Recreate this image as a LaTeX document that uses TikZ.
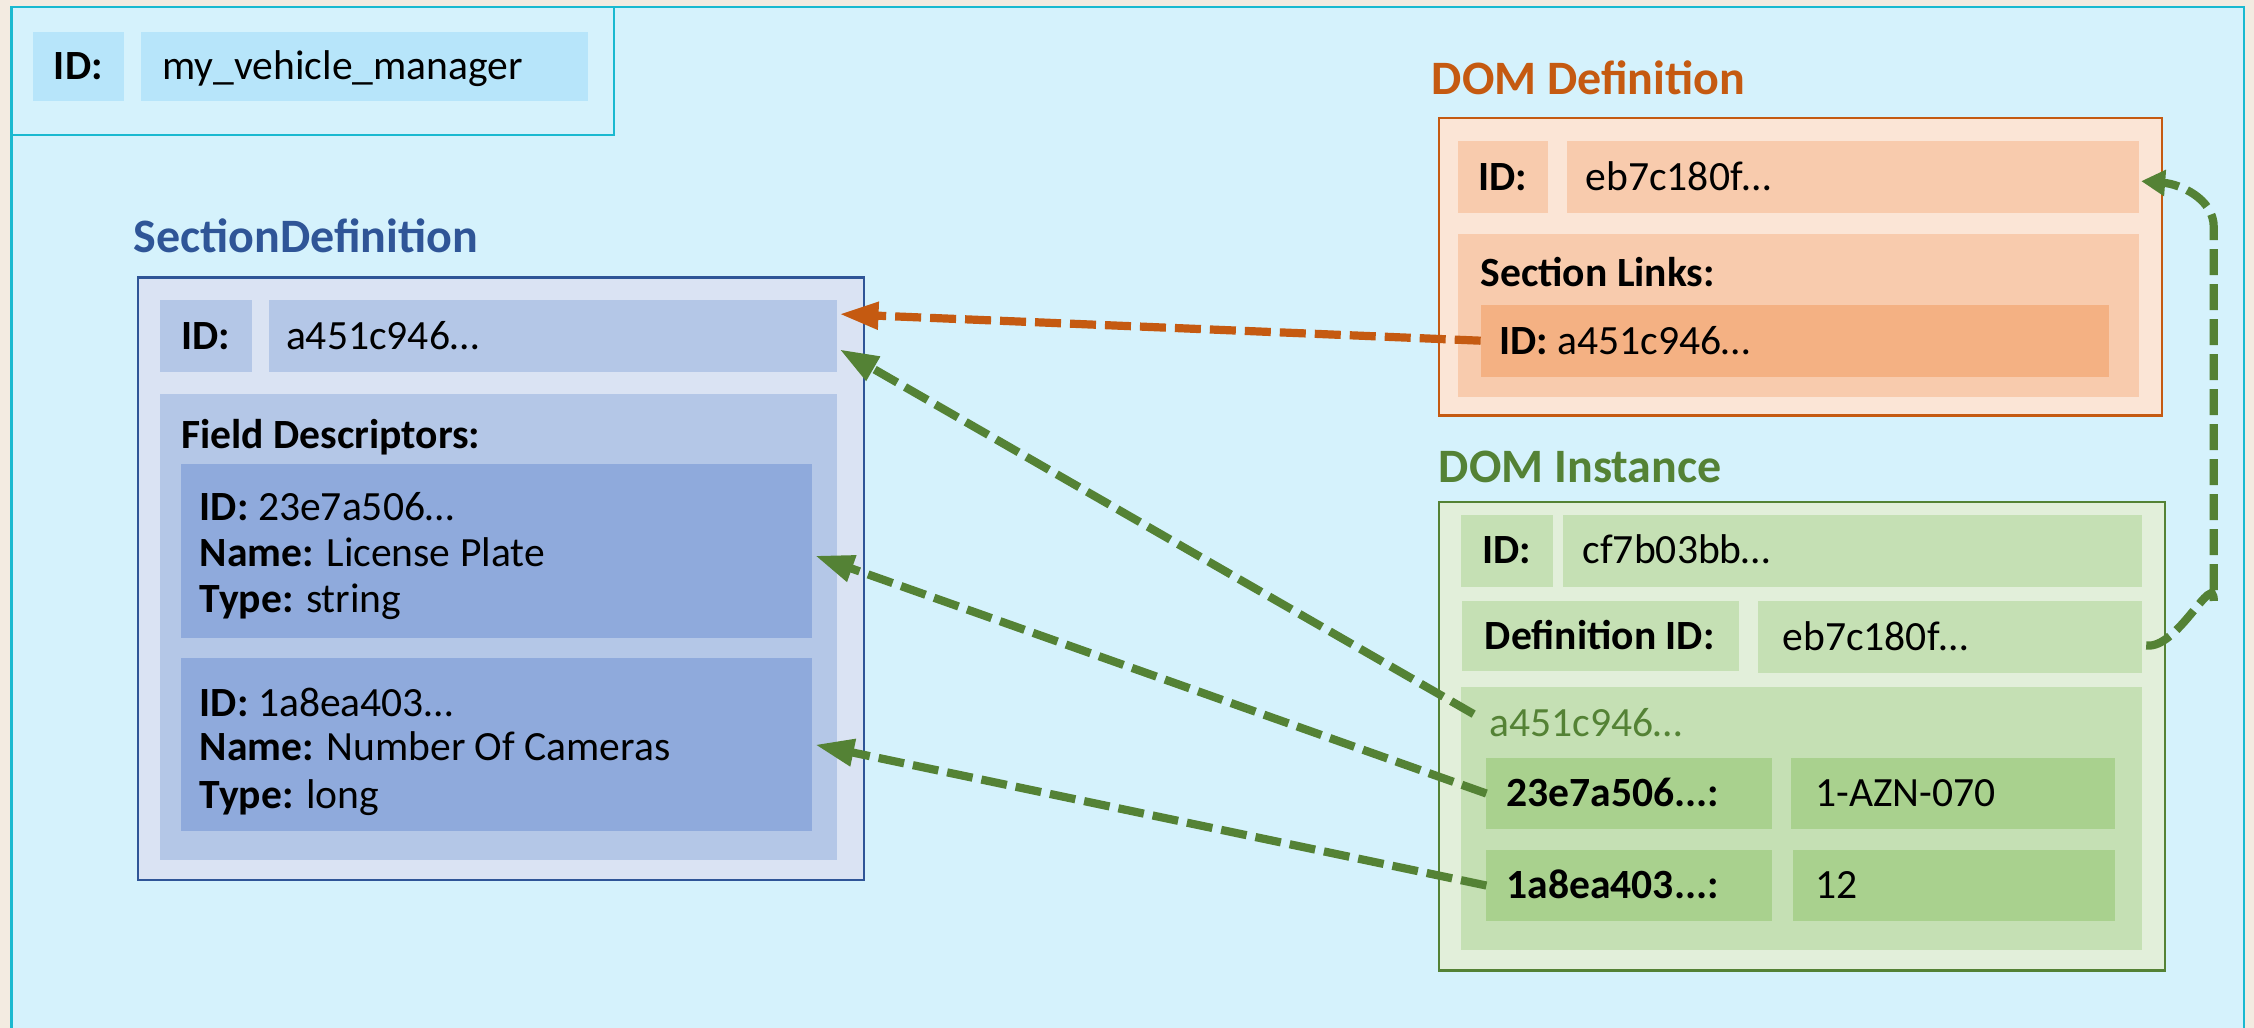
\documentclass[tikz,border=0pt]{standalone}
\usepackage{fontspec}
\setmainfont{Carlito}
\usetikzlibrary{fit,calc,arrows.meta}

\definecolor{pagebg}{HTML}{F3EBE1}
\definecolor{panelfill}{HTML}{D5F2FC}
\definecolor{panelline}{HTML}{1AB9D0}
\definecolor{tlbox}{HTML}{B7E5FA}
\definecolor{sdOuter}{HTML}{DAE3F3}
\definecolor{sdLine}{HTML}{2F5597}
\definecolor{sdMid}{HTML}{B4C7E7}
\definecolor{sdDeep}{HTML}{8FAADC}
\definecolor{ddOuter}{HTML}{FBE5D6}
\definecolor{ddLine}{HTML}{C55A11}
\definecolor{ddMid}{HTML}{F8CBAD}
\definecolor{ddDeep}{HTML}{F4B183}
\definecolor{diOuter}{HTML}{E2EFDA}
\definecolor{diLine}{HTML}{548235}
\definecolor{diMid}{HTML}{C5E0B4}
\definecolor{diDeep}{HTML}{A9D18E}

\tikzset{
  region/.style={inner sep=0pt, outer sep=0pt},
  txt/.style={inner sep=0pt, outer sep=0pt, font=\fontsize{20.8}{25}\selectfont,
    text height=16.6pt, text depth=3.2pt},
  boldtxt/.style={txt, font=\fontsize{20.8}{25}\selectfont\bfseries},
  heading/.style={inner sep=0pt, outer sep=0pt, anchor=west,
    font=\fontsize{24}{29}\selectfont\bfseries, text height=19.2pt, text depth=3.7pt},
  link/.style={line width=4.1pt, dash pattern=on 13pt off 4.5pt,
    -{Triangle[length=19.5pt,width=13pt]}},
  looplink/.style={line width=4.1pt, dash pattern=on 13pt off 4.5pt,
    -{Triangle[length=12pt,width=12.5pt]}},
}

\begin{document}
\begin{tikzpicture}[x=0.71875pt, y=-0.71875pt]
\useasboundingbox (0,0) rectangle (1568,715);
\fill[pagebg] (0,0) rectangle (1568,715);

% main panel
\node[region, fill=panelfill, draw=panelline, line width=1.2pt, fit={(8,5) (1561,760)}] (panel) {};

% manager id
\node[region, draw=panelline, line width=1.2pt, fit={(8,5) (427,94)}] (tlFrame) {};
\node[region, fill=tlbox, fit={(23,22) (86,70)}] (tlIdLbl) {};
\node[region, fill=tlbox, fit={(98,22) (409,70)}] (tlIdVal) {};
\node[boldtxt] (tlIdLblT) at (tlIdLbl.center) {ID:};
\node[txt, anchor=west] (tlIdValT) at ($(tlIdVal.west)+(15,0)$) {my\_vehicle\_manager};

% section definition
\node[heading, text=sdLine] (sdTitle) at (93,165) {SectionDefinition};
\node[region, fill=sdOuter, draw=sdLine, line width=1.2pt, fit={(96,193) (601,612)}] (sd) {};
\node[region, fill=sdMid, fit={(111,209) (175,259)}] (sdIdLbl) {};
\node[region, fill=sdMid, fit={(187,209) (582,259)}] (sdIdVal) {};
\node[boldtxt] (sdIdLblT) at (sdIdLbl.center) {ID:};
\node[txt, anchor=west] (sdIdValT) at ($(sdIdVal.west)+(12,0)$) {a451c946…};
\node[region, fill=sdMid, fit={(111,274) (582,598)}] (sdFields) {};
\node[boldtxt, anchor=west] (sdFieldsT) at (126,303) {Field Descriptors:};
\node[region, fill=sdDeep, fit={(126,323) (565,444)}] (fd1) {};
\node[txt, anchor=west] (fd1a) at (139,353) {\textbf{ID:} 23e7a506…};
\node[txt, anchor=west] (fd1b) at (139,385) {\textbf{Name:} License Plate};
\node[txt, anchor=west] (fd1c) at (139,417) {\textbf{Type:} string};
\node[region, fill=sdDeep, fit={(126,458) (565,578)}] (fd2) {};
\node[txt, anchor=west] (fd2a) at (139,489) {\textbf{ID:} 1a8ea403…};
\node[txt, anchor=west] (fd2b) at (139,520) {\textbf{Name:} Number Of Cameras};
\node[txt, anchor=west] (fd2c) at (139,553) {\textbf{Type:} long};

% DOM definition
\node[heading, text=ddLine] (ddTitle) at (996,55) {DOM Definition};
\node[region, fill=ddOuter, draw=ddLine, line width=1.2pt, fit={(1001,82) (1504,289)}] (dd) {};
\node[region, fill=ddMid, fit={(1014,98) (1077,148)}] (ddIdLbl) {};
\node[region, fill=ddMid, fit={(1090,98) (1488,148)}] (ddIdVal) {};
\node[boldtxt] (ddIdLblT) at (ddIdLbl.center) {ID:};
\node[txt, anchor=west] (ddIdValT) at ($(ddIdVal.west)+(13,0)$) {eb7c180f…};
\node[region, fill=ddMid, fit={(1014,163) (1488,276)}] (ddLinks) {};
\node[boldtxt, anchor=west] (ddLinksT) at (1030,190) {Section Links:};
\node[region, fill=ddDeep, fit={(1030,212) (1467,262)}] (ddLinkId) {};
\node[txt, anchor=west] (ddLinkIdT) at ($(ddLinkId.west)+(13,0)$) {\textbf{ID:} a451c946…};

% DOM instance
\node[heading, text=diLine] (diTitle) at (1001,325) {DOM Instance};
\node[region, fill=diOuter, draw=diLine, line width=1.2pt, fit={(1001,349) (1506,675)}] (di) {};
\node[region, fill=diMid, fit={(1016,358) (1080,408)}] (diIdLbl) {};
\node[region, fill=diMid, fit={(1087,358) (1490,408)}] (diIdVal) {};
\node[boldtxt] (diIdLblT) at (diIdLbl.center) {ID:};
\node[txt, anchor=west] (diIdValT) at ($(diIdVal.west)+(14,0)$) {cf7b03bb…};
\node[region, fill=diMid, fit={(1017,418) (1210,467)}] (diDefLbl) {};
\node[region, fill=diMid, fit={(1223,418) (1490,468)}] (diDefVal) {};
\node[boldtxt, anchor=west] (diDefLblT) at ($(diDefLbl.west)+(16,0)$) {Definition ID:};
\node[txt, anchor=west] (diDefValT) at ($(diDefVal.west)+(17,0)$) {eb7c180f…};
\node[region, fill=diMid, fit={(1016,478) (1490,661)}] (diSec) {};
\node[txt, anchor=west, text=diLine] (diSecT) at (1036,503) {a451c946…};
\node[region, fill=diDeep, fit={(1034,527) (1233,577)}] (row1Key) {};
\node[region, fill=diDeep, fit={(1246,527) (1471,577)}] (row1Val) {};
\node[boldtxt, anchor=west] (row1KeyT) at ($(row1Key.west)+(14,0)$) {23e7a506...:};
\node[txt, anchor=west] (row1ValT) at ($(row1Val.west)+(17,0)$) {1-AZN-070};
\node[region, fill=diDeep, fit={(1034,591) (1233,641)}] (row2Key) {};
\node[region, fill=diDeep, fit={(1247,591) (1471,641)}] (row2Val) {};
\node[boldtxt, anchor=west] (row2KeyT) at ($(row2Key.west)+(14,0)$) {1a8ea403...:};
\node[txt, anchor=west] (row2ValT) at ($(row2Val.west)+(16,0)$) {12};

% references
\draw[link, ddLine] (ddLinkId.west) -- ($(sdIdVal.north east)!0.19!(sdIdVal.south east)+(2,0)$);
\draw[link, diLine, shorten <=9pt] (diSecT.west) -- ($(sdIdVal.north east)!0.68!(sdIdVal.south east)+(2,0)$);
\draw[link, diLine] (row1Key.west) -- ($(fd1.east)+(2,3)$);
\draw[link, diLine] (row2Key.west) -- ($(fd2.east)+(2,0)$);
\coordinate (bendLow) at (1540,418);
\coordinate (bendHigh) at (1540,158);
\draw[looplink, diLine] ($(diDefVal.east)+(3,6)$) to[out=-8, in=90] (bendLow) -- (bendHigh)
  .. controls (1540,138) and (1516,128) .. ($(ddIdVal.east)+(1.5,3)$);
\end{tikzpicture}
\end{document}
